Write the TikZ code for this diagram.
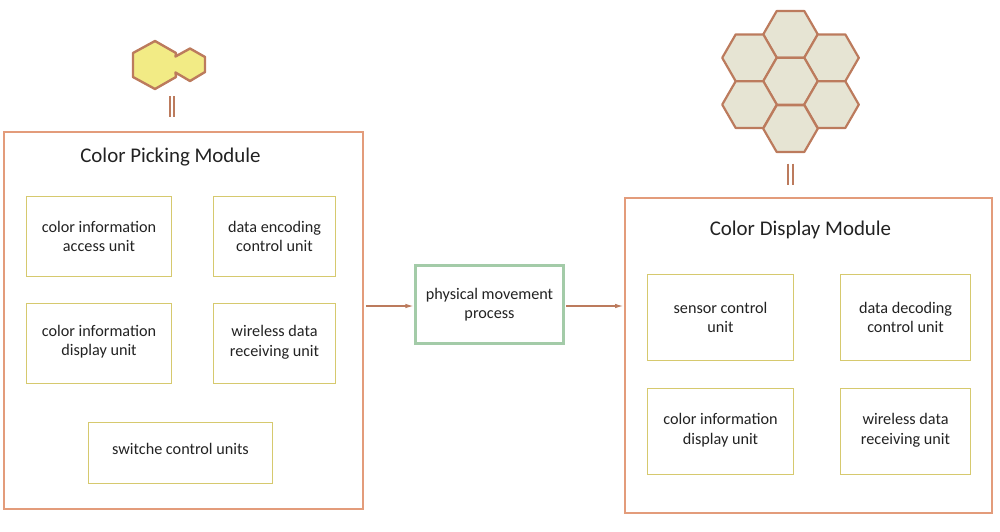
\documentclass[tikz,border=0pt]{standalone}
\usepackage{fontspec}
\setmainfont{Carlito}
\usetikzlibrary{arrows.meta}
\definecolor{modframe}{HTML}{E39C7B}
\definecolor{unitframe}{HTML}{D6C96E}
\definecolor{procframe}{HTML}{A3CBA8}
\definecolor{hexline}{HTML}{BC7B5D}
\definecolor{hexyellow}{HTML}{F2EB85}
\definecolor{hexgrey}{HTML}{E6E4D3}
\definecolor{inktext}{HTML}{222222}
\newcommand{\lift}[1]{\rule[-#1]{0pt}{1pt}}
\tikzset{
  x=1pt,y=-1pt,
  box/.style={rectangle,inner sep=0pt,align=center,text=inktext,font=\fontsize{16.2}{19.6}\selectfont},
  modbox/.style={box,draw=modframe,line width=2pt},
  unitbox/.style={box,draw=unitframe,line width=1.1pt},
  procbox/.style={box,draw=procframe,line width=2.1pt},
  modtitle/.style={inner sep=0pt,text=inktext,font=\fontsize{20.9}{24}\selectfont},
  hexcell/.style={draw=hexline,line width=2.2pt,fill=hexgrey,line join=round},
  hexpick/.style={draw=hexline,line width=2.4pt,fill=hexyellow,line join=round},
  equalbar/.style={draw=hexline,line width=2pt},
  flow/.style={draw=hexline,line width=1.1pt,-{Latex[length=8pt,width=4.5pt]}},
  pics/hexagon/.style={code={
    \draw[hexcell] (-27.3,0)--(-13.8,-23.4)--(13.8,-23.4)--(27.3,0)--(13.8,23.4)--(-13.8,23.4)--cycle;
  }}
}
\begin{document}
\begin{tikzpicture}
\useasboundingbox (0,0) rectangle (1000,531);
% picking module icon
\draw[hexpick] (155,41)--(176,53)--(175.5,56.5)--(190,48.5)--(205,57)--(205,72)--(190,81)--(175.5,72.5)--(176,77)--(155,89)--(133,77)--(133,53)--cycle;
\draw[equalbar] (169.5,96)--(169.5,117) (174,96)--(174,117);
% display module icon
\pic at (790.5,34.4) {hexagon};
\pic at (749.5,57.8) {hexagon};
\pic at (831.5,57.8) {hexagon};
\pic at (790.5,81.2) {hexagon};
\pic at (749.5,104.6) {hexagon};
\pic at (831.5,104.6) {hexagon};
\pic at (790.5,128.6) {hexagon};
\draw[equalbar] (788,163.5)--(788,185) (792.5,163.5)--(792.5,185);
% modules
\node[modbox,minimum width=359.5pt,minimum height=376.5pt] (pick) at (183.5,320.25) {};
\node[modtitle] (picktitle) at (170.5,157) {Color Picking Module};
\node[modbox,minimum width=367pt,minimum height=315pt] (show) at (808.6,355.5) {};
\node[modtitle] (showtitle) at (800.5,230) {Color Display Module};
% picking units
\node[unitbox,minimum width=145pt,minimum height=80pt] (a1) at (99,236.5) {color information\\access unit};
\node[unitbox,minimum width=122pt,minimum height=80pt] (a2) at (274.5,236.5) {data encoding\\control unit};
\node[unitbox,minimum width=145pt,minimum height=80pt] (a3) at (99,343.5) {color information\\display unit\lift{6pt}};
\node[unitbox,minimum width=122pt,minimum height=80pt] (a4) at (274.5,343.5) {wireless data\\receiving unit\lift{5pt}};
\node[unitbox,minimum width=184pt,minimum height=61pt] (a5) at (180.5,453) {\raisebox{8pt}{switche control units}};
% display units
\node[unitbox,minimum width=146pt,minimum height=86pt] (b1) at (720.5,317.5) {sensor control\\unit};
\node[unitbox,minimum width=130pt,minimum height=86pt] (b2) at (905.5,317.5) {data decoding\\control unit};
\node[unitbox,minimum width=146pt,minimum height=86pt] (b3) at (720.5,431.5) {color information\\display unit\lift{5.5pt}};
\node[unitbox,minimum width=130pt,minimum height=86pt] (b4) at (905.5,431.5) {wireless data\\receiving unit\lift{5pt}};
% process
\node[procbox,minimum width=148pt,minimum height=78pt] (proc) at (489.5,304.5) {physical movement\\process};
% flows
\coordinate (fa) at ([xshift=1.5pt,yshift=-1.5pt]pick.east|-proc.west);
\coordinate (fb) at ([xshift=-1pt,yshift=-1.5pt]show.west|-proc.east);
\draw[flow] (fa)--([xshift=-1pt,yshift=-1.5pt]proc.west);
\draw[flow] ([xshift=1.5pt,yshift=-1.5pt]proc.east)--(fb);
\end{tikzpicture}
\end{document}
